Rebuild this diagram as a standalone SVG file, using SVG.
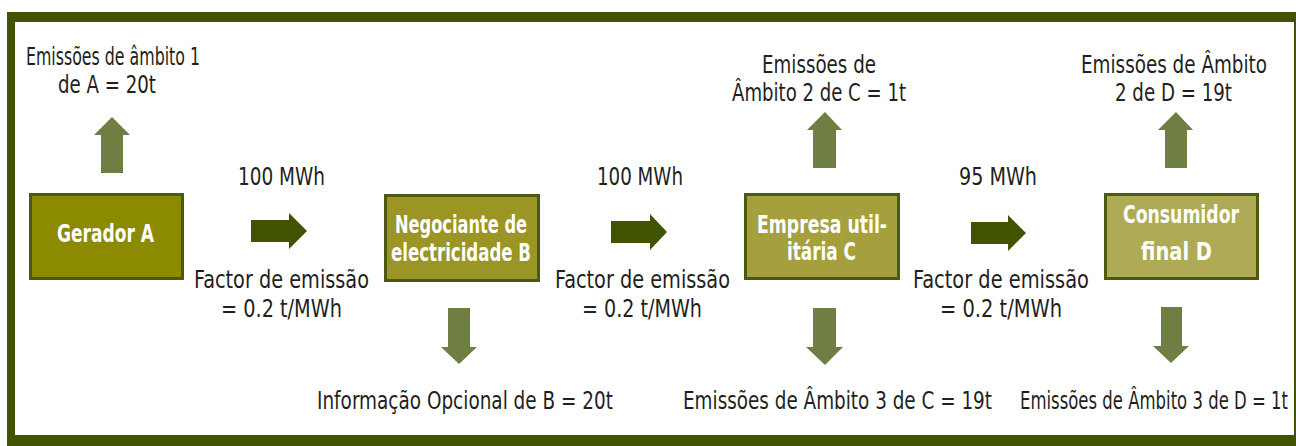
<svg xmlns="http://www.w3.org/2000/svg" width="1296" height="446" viewBox="0 0 1296 446">
<style>
.lbl{font-family:"Liberation Sans Narrow","DejaVu Sans Condensed","Liberation Sans",sans-serif;font-size:24.5px;fill:#231f20}
.nt{font-family:"Liberation Sans Narrow","DejaVu Sans Condensed","Liberation Sans",sans-serif;font-size:25px;font-weight:bold;fill:#ffffff}
.box{stroke:#4b5a12;stroke-width:3}
.flow{fill:#3f5300}
.emit{fill:#6f7e42}
</style>
<rect x="7" y="12" width="1289" height="440" fill="#415200"/>
<rect x="15" y="22" width="1279" height="413" fill="#ffffff"/>
<g id="node-gerador-a">
<rect class="box" x="30.5" y="194.5" width="152" height="84" fill="#8b8a00"/>
<text class="nt" x="57" y="242" textLength="97" lengthAdjust="spacingAndGlyphs">Gerador A</text>
</g>
<g id="node-negociante-b">
<rect class="box" x="385.5" y="195.5" width="153" height="85" fill="#9a9524"/>
<text class="nt" x="395" y="233" textLength="132" lengthAdjust="spacingAndGlyphs">Negociante de</text>
<text class="nt" x="391" y="261" textLength="140" lengthAdjust="spacingAndGlyphs">electricidade B</text>
</g>
<g id="node-empresa-c">
<rect class="box" x="745.5" y="194.5" width="153" height="84" fill="#a5a03d"/>
<text class="nt" x="757" y="233" textLength="130" lengthAdjust="spacingAndGlyphs">Empresa util-</text>
<text class="nt" x="787" y="260" textLength="69" lengthAdjust="spacingAndGlyphs">itária C</text>
</g>
<g id="node-consumidor-d">
<rect class="box" x="1105.5" y="194.5" width="152" height="84" fill="#afaa55"/>
<text class="nt" x="1123" y="223" textLength="116" lengthAdjust="spacingAndGlyphs">Consumidor</text>
<text class="nt" x="1141" y="260" textLength="71" lengthAdjust="spacingAndGlyphs">final D</text>
</g>
<g id="connectors">
<polygon class="flow" points="251,220 289,220 289,213 307,231 289,249 289,242 251,242"/>
<polygon class="flow" points="611,221 650,221 650,214 667,232 650,250 650,243 611,243"/>
<polygon class="flow" points="971,222 1008,222 1008,215 1026,233 1008,251 1008,244 971,244"/>
<polygon class="emit" points="101,173 101,135 94,135 112,117 130,135 123,135 123,173"/>
<polygon class="emit" points="813,168 813,130 807,130 825,112 842,130 836,130 836,168"/>
<polygon class="emit" points="1165,168 1165,130 1158,130 1176,112 1193,130 1187,130 1187,168"/>
<polygon class="emit" points="448,308 470,308 470,347 477,347 459,364 441,347 448,347"/>
<polygon class="emit" points="813,308 836,308 836,347 843,347 825,365 806,347 813,347"/>
<polygon class="emit" points="1161,307 1182,307 1182,346 1189,346 1171,363 1153,346 1161,346"/>
</g>
<g id="labels">
<text class="lbl" x="26" y="65" textLength="174" lengthAdjust="spacingAndGlyphs">Emissões de âmbito 1</text>
<text class="lbl" x="58" y="93" textLength="98" lengthAdjust="spacingAndGlyphs">de A = 20t</text>
<text class="lbl" x="238" y="185" textLength="87" lengthAdjust="spacingAndGlyphs">100 MWh</text>
<text class="lbl" x="194" y="288" textLength="175" lengthAdjust="spacingAndGlyphs">Factor de emissão</text>
<text class="lbl" x="221" y="317" textLength="121" lengthAdjust="spacingAndGlyphs">= 0.2 t/MWh</text>
<text class="lbl" x="597" y="185" textLength="86" lengthAdjust="spacingAndGlyphs">100 MWh</text>
<text class="lbl" x="555" y="288" textLength="175" lengthAdjust="spacingAndGlyphs">Factor de emissão</text>
<text class="lbl" x="582" y="317" textLength="120" lengthAdjust="spacingAndGlyphs">= 0.2 t/MWh</text>
<text class="lbl" x="317" y="409" textLength="296" lengthAdjust="spacingAndGlyphs">Informação Opcional de B = 20t</text>
<text class="lbl" x="762" y="73" textLength="114" lengthAdjust="spacingAndGlyphs">Emissões de</text>
<text class="lbl" x="732" y="101" textLength="174" lengthAdjust="spacingAndGlyphs">Âmbito 2 de C = 1t</text>
<text class="lbl" x="683" y="409" textLength="309" lengthAdjust="spacingAndGlyphs">Emissões de Âmbito 3 de C = 19t</text>
<text class="lbl" x="959" y="185" textLength="78" lengthAdjust="spacingAndGlyphs">95 MWh</text>
<text class="lbl" x="913" y="288" textLength="176" lengthAdjust="spacingAndGlyphs">Factor de emissão</text>
<text class="lbl" x="940" y="317" textLength="122" lengthAdjust="spacingAndGlyphs">= 0.2 t/MWh</text>
<text class="lbl" x="1081" y="73" textLength="186" lengthAdjust="spacingAndGlyphs">Emissões de Âmbito</text>
<text class="lbl" x="1115" y="101" textLength="117" lengthAdjust="spacingAndGlyphs">2 de D = 19t</text>
<text class="lbl" x="1020" y="409" textLength="268" lengthAdjust="spacingAndGlyphs">Emissões de Âmbito 3 de D = 1t</text>
</g>
</svg>
